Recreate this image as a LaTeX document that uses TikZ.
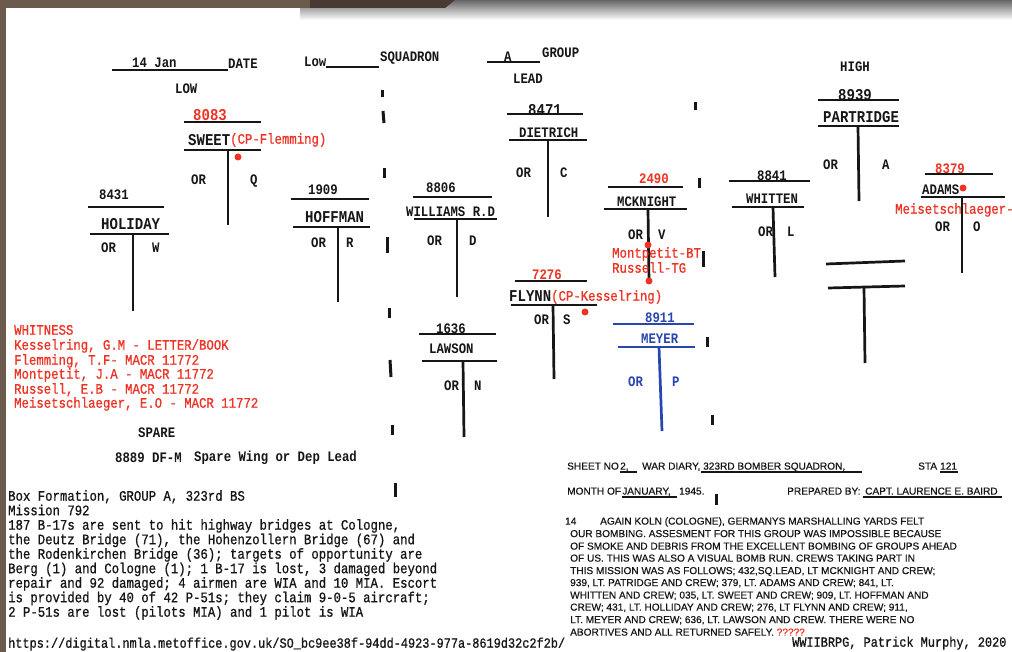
\documentclass[tikz,border=0pt]{standalone}
\usepackage{fontspec}
\newfontfamily\cour[FakeStretch=0.85]{Liberation Mono}
\newfontfamily\courr[FakeStretch=0.85,FakeBold=0.8]{Liberation Mono}
\newfontfamily\arl[FakeBold=0.6]{Liberation Sans}
\definecolor{bgbrown}{RGB}{107,91,77}
\definecolor{darkbrown}{RGB}{70,58,50}
\definecolor{rd}{RGB}{238,50,36}
\definecolor{bl}{RGB}{40,70,175}
\definecolor{ink}{RGB}{22,22,22}
\begin{document}
\begin{tikzpicture}[x=1pt,y=-1pt,
  lab/.style={font=\cour\bfseries\fontsize{14.5}{16}\selectfont, inner sep=0pt, text height=9.4pt, text depth=0pt, anchor=west, text=ink},
  big/.style={lab, font=\cour\bfseries\fontsize{16.5}{18}\selectfont, text height=10.6pt},
  txt/.style={font=\courr\fontsize{14.5}{16}\selectfont, inner sep=0pt, text height=9.4pt, text depth=0pt, anchor=west, text=ink},
  rtxt/.style={txt, text=rd},
  sans/.style={font=\arl\fontsize{10.1}{12}\selectfont, inner sep=0pt, text height=7.2pt, text depth=0pt, anchor=west, text=ink},
  bar/.style={line width=2.7pt, draw=ink},
  ul/.style={line width=2pt, draw=ink},
  sul/.style={line width=1.6pt, draw=ink},
  tick/.style={line width=3pt, draw=ink},
  dot/.style={circle, fill=rd, inner sep=0pt, minimum size=7pt}
]
\useasboundingbox (0,0) rectangle (1012,652);
% page and frame
\fill[bgbrown] (0,0) rectangle (1012,652);
\fill[white] (6,8) rectangle (1012,652);
\shade[top color=black!60, bottom color=white] (300,0) rectangle (1012,20);
\fill[darkbrown] (300,0) -- (455,0) -- (445,8) -- (300,8) -- cycle;
\fill[bgbrown] (0,0) rectangle (310,8);

% header
\node[lab] (jan) at (132,63) {14 Jan};
\draw[ul] (112,70) -- (228,70);
\node[lab] (date) at (228,64) {DATE};
\node[lab] (lowsq) at (304,62) {Low};
\draw[ul] (326,67) -- (379,67);
\node[lab] (squad) at (380,57) {SQUADRON};
\node[lab] (grpA) at (504,57) {A};
\draw[ul] (487,62) -- (540,62);
\node[lab] (group) at (542,53) {GROUP};
\node[lab] (lead) at (513,79) {LEAD};
\node[lab] (low) at (175,89) {LOW};
\node[lab] (high) at (840,67) {HIGH};

% SWEET
\node[big, text=rd] (n8083) at (193,115) {8083};
\draw[bar] (184,122) -- (261,122);
\node[big] (sweet) at (188,140) {SWEET};
\node[rtxt] (flem) at (230,139) {(CP-Flemming)};
\draw[bar] (184,150) -- (261,150);
\draw[bar] (228,150) -- (228,225);
\node[dot] (dsweet) at (238,157) {};
\node[lab] (orq) at (191,180) {OR};
\node[lab] (q) at (250,180) {Q};

% HOLIDAY
\node[lab] (n8431) at (99,195) {8431};
\draw[bar] (88,207) -- (164,207);
\node[big] (holiday) at (101,224) {HOLIDAY};
\draw[bar] (90,234) -- (169,234);
\draw[bar] (133,234) -- (133,311);
\node[lab] (orw) at (101,248) {OR};
\node[lab] (w) at (152,248) {W};

% HOFFMAN
\node[lab] (n1909) at (308,190) {1909};
\draw[bar] (291,199) -- (369,199);
\node[big] (hoffman) at (305,217) {HOFFMAN};
\draw[bar] (293,227) -- (370,227);
\draw[bar] (338,227) -- (338,302);
\node[lab] (orr) at (311,243) {OR};
\node[lab] (r) at (346,243) {R};

% WILLIAMS
\node[lab] (n8806) at (426,188) {8806};
\draw[bar] (413,197) -- (492,197);
\node[lab] (williams) at (406,212) {WILLIAMS R.D};
\draw[bar] (414,219) -- (497,219);
\draw[bar] (457,219) -- (457,297);
\node[lab] (ord) at (427,241) {OR};
\node[lab] (d) at (469,241) {D};

% DIETRICH
\node[big] (n8471) at (528,110) {8471};
\draw[bar] (507,114) -- (583,114);
\node[lab] (dietrich) at (519,133) {DIETRICH};
\draw[bar] (509,140) -- (587,140);
\draw[bar] (548,140) -- (548,217);
\node[lab] (orc) at (516,173) {OR};
\node[lab] (c) at (560,173) {C};

% MCKNIGHT
\node[lab, text=rd] (n2490) at (639,179) {2490};
\draw[bar] (608,187) -- (683,187);
\node[lab] (mcknight) at (617,202) {MCKNIGHT};
\draw[bar] (604,209) -- (687,209);
\draw[bar] (648,209) -- (649,282);
\node[lab] (orv) at (628,235) {OR};
\node[lab] (v) at (658,235) {V};
\node[dot] (dm1) at (648,245) {};
\node[dot] (dm2) at (649,281) {};
\node[rtxt] (montp) at (612,253) {Montpetit-BT};
\node[rtxt] (russ) at (612,268) {Russell-TG};

% WHITTEN
\node[lab] (n8841) at (757,176) {8841};
\draw[bar] (729,181) -- (810,181);
\node[lab] (whitten) at (746,199) {WHITTEN};
\draw[bar] (732,207) -- (804,207);
\draw[bar] (773,207) -- (775,277);
\node[lab] (orl) at (758,232) {OR};
\node[lab] (l) at (787,232) {L};

% PARTRIDGE
\node[big] (n8939) at (838,95) {8939};
\draw[bar] (818,100) -- (899,100);
\node[big] (partridge) at (823,117) {PARTRIDGE};
\draw[bar] (818,126) -- (899,126);
\draw[bar] (858,126) -- (859,201);
\node[lab] (ora) at (823,165) {OR};
\node[lab] (a) at (882,165) {A};

% ADAMS
\node[lab, text=rd] (n8379) at (935,169) {8379};
\draw[bar] (925,174) -- (993,174);
\node[lab] (adams) at (922,190) {ADAMS};
\node[dot] (dadams) at (963,188) {};
\draw[bar] (921,197) -- (1005,197);
\draw[bar] (962,197) -- (962,273);
\node[rtxt] (meis) at (895,209) {Meisetschlaeger-};
\node[lab] (oro) at (935,227) {OR};
\node[lab] (o) at (973,227) {O};

% empty T
\draw[bar] (826,264) -- (905,261);
\draw[bar] (828,288) -- (905,286);
\draw[bar] (864,287) -- (865,363);

% FLYNN
\node[lab, text=rd] (n7276) at (532,275) {7276};
\draw[bar] (515,281) -- (587,281);
\node[big] (flynn) at (509,296) {FLYNN};
\node[rtxt] (kess) at (551,296) {(CP-Kesselring)};
\draw[bar] (511,305) -- (597,305);
\draw[bar] (553,305) -- (554,379);
\node[dot] (dflynn) at (585,312) {};
\node[lab] (ors) at (534,320) {OR};
\node[lab] (s) at (563,320) {S};

% MEYER
\node[lab, text=bl] (n8911) at (645,318) {8911};
\draw[bar, draw=bl] (613,324) -- (694,324);
\node[lab, text=bl] (meyer) at (641,339) {MEYER};
\draw[bar, draw=bl] (618,347) -- (695,347);
\draw[bar, draw=bl] (659,347) -- (662,431);
\node[lab, text=bl] (orp) at (628,382) {OR};
\node[lab, text=bl] (p) at (672,382) {P};

% LAWSON
\node[lab] (n1636) at (436,329) {1636};
\draw[bar] (419,334) -- (496,334);
\node[lab] (lawson) at (429,349) {LAWSON};
\draw[bar] (422,361) -- (497,361);
\draw[bar] (463,361) -- (464,437);
\node[lab] (orn) at (444,386) {OR};
\node[lab] (n) at (474,386) {N};

% dashed separators
\foreach \xa/\ya/\xb/\yb in {382/90/382/97, 383/111/384/123, 384/168/384/178, 387/237/387/253, 389/308/389/318, 390/360/391/377, 392/425/392/435, 395/483/395/497,
  695/102/695/110, 699/178/699/188, 703/251/703/267, 707/337/707/347, 712/415/712/425, 716/494/716/505}
  \draw[tick] (\xa,\ya) -- (\xb,\yb);

% witness list
\node[rtxt] (wit0) at (14,330) {WHITNESS};
\node[rtxt] (wit1) at (14,345) {Kesselring, G.M - LETTER/BOOK};
\node[rtxt] (wit2) at (14,360) {Flemming, T.F- MACR 11772};
\node[rtxt] (wit3) at (14,374) {Montpetit, J.A - MACR 11772};
\node[rtxt] (wit4) at (14,389) {Russell, E.B - MACR 11772};
\node[rtxt] (wit5) at (14,403) {Meisetschlaeger, E.O - MACR 11772};

% spare
\node[lab] (spare) at (138,433) {SPARE};
\node[lab] (n8889) at (115,458) {8889 DF-M};
\node[lab] (sparew) at (194,457) {Spare Wing or Dep Lead};

% mission text
\node[txt] (b1) at (8,496) {Box Formation, GROUP A, 323rd BS};
\node[txt] (b2) at (8,510.5) {Mission 792};
\node[txt] (b3) at (8,525) {187 B-17s are sent to hit highway bridges at Cologne,};
\node[txt] (b4) at (8,539.5) {the Deutz Bridge (71), the Hohenzollern Bridge (67) and};
\node[txt] (b5) at (8,554) {the Rodenkirchen Bridge (36); targets of opportunity are};
\node[txt] (b6) at (8,568.5) {Berg (1) and Cologne (1); 1 B-17 is lost, 3 damaged beyond};
\node[txt] (b7) at (8,583) {repair and 92 damaged; 4 airmen are WIA and 10 MIA. Escort};
\node[txt] (b8) at (8,597.5) {is provided by 40 of 42 P-51s; they claim 9-0-5 aircraft;};
\node[txt] (b9) at (8,612) {2 P-51s are lost (pilots MIA) and 1 pilot is WIA};
\node[txt, font=\courr\fontsize{14}{16}\selectfont] (url) at (8,643) {https://digital.nmla.metoffice.gov.uk/SO\_bc9ee38f-94dd-4923-977a-8619d32c2f2b/};
\node[txt, font=\courr\fontsize{14}{16}\selectfont] (credit) at (792,642) {WWIIBRPG, Patrick Murphy, 2020};

% war diary
\node[sans] (sheet) at (567,466) {SHEET NO};
\node[sans] (two) at (620,466) {2,};
\draw[sul] (620,472) -- (637,472);
\node[sans] (wardiary) at (642,466) {WAR DIARY,};
\node[sans] (sq323) at (703,466) {323RD BOMBER SQUADRON,};
\draw[sul] (701,472) -- (862,472);
\node[sans] (sta) at (918,466) {STA};
\node[sans] (sta121) at (940,466) {121};
\draw[sul] (940,472) -- (958,472);
\node[sans] (month) at (567,491) {MONTH OF};
\node[sans] (jan45) at (622,491) {JANUARY,};
\draw[sul] (622,497) -- (677,497);
\node[sans] (y1945) at (679,491) {1945.};
\node[sans] (prep) at (787,491) {PREPARED BY:};
\node[sans] (baird) at (865,491) {CAPT. LAURENCE E. BAIRD};
\draw[sul] (863,497) -- (1002,497);
\node[sans] (d14) at (565,521) {14};
\node[sans] (p1) at (600,521) {AGAIN KOLN (COLOGNE), GERMANYS MARSHALLING YARDS FELT};
\node[sans] (p2) at (570,533.5) {OUR BOMBING. ASSESMENT FOR THIS GROUP WAS IMPOSSIBLE BECAUSE};
\node[sans] (p3) at (570,546) {OF SMOKE AND DEBRIS FROM THE EXCELLENT BOMBING OF GROUPS AHEAD};
\node[sans] (p4) at (570,558) {OF US. THIS WAS ALSO A VISUAL BOMB RUN. CREWS TAKING PART IN};
\node[sans] (p5) at (570,570.5) {THIS MISSION WAS AS FOLLOWS; 432,SQ.LEAD, LT MCKNIGHT AND CREW;};
\node[sans] (p6) at (570,582.5) {939, LT. PATRIDGE AND CREW; 379, LT. ADAMS AND CREW; 841, LT.};
\node[sans] (p7) at (570,595) {WHITTEN AND CREW; 035, LT. SWEET AND CREW; 909, LT. HOFFMAN AND};
\node[sans] (p8) at (570,607) {CREW; 431, LT. HOLLIDAY AND CREW; 276, LT FLYNN AND CREW; 911,};
\node[sans] (p9) at (570,619.5) {LT. MEYER AND CREW; 636, LT. LAWSON AND CREW. THERE WERE NO};
\node[sans] (p10) at (570,632) {ABORTIVES AND ALL RETURNED SAFELY. \textcolor{rd}{?????}};
\end{tikzpicture}
\end{document}
